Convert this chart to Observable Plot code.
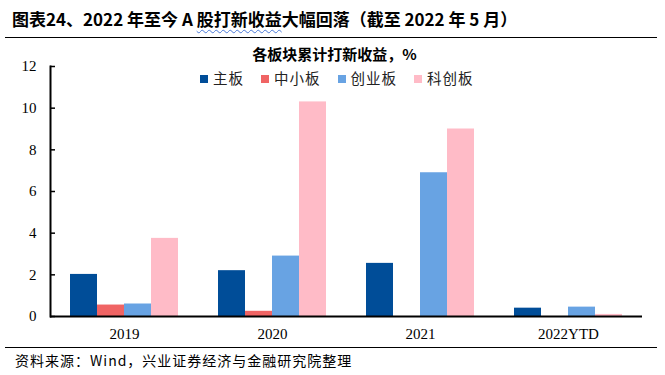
<!DOCTYPE html>
<html>
<head>
<meta charset="utf-8">
<script src="https://cdn.jsdelivr.net/npm/d3@7"></script>
<script src="https://cdn.jsdelivr.net/npm/@observablehq/plot@0.6"></script>
<style>
  body { margin: 0; background: #fff; width: 665px; height: 375px; overflow: hidden; font-family: "Noto Sans CJK SC", sans-serif; }
  #title { position: absolute; left: 12px; top: 6px; font-size: 17px; font-weight: bold; color: #000; white-space: nowrap; letter-spacing: 0px; }
  #title .wavy { text-decoration: underline wavy #4a78d6; text-decoration-thickness: 1px; text-underline-offset: 3px; }
  #line1 { position: absolute; left: 5px; top: 37px; width: 652px; height: 0; border-top: 1.5px solid #000; }
  #wrap { position: absolute; left: 0; top: 40px; }
  #sub { position: absolute; left: 0; width: 665px; top: 43px; text-align: center; font-size: 15px; font-weight: bold; color: #000; padding-left: 4px; box-sizing: border-box; }
  #legend { position: absolute; left: 200px; top: 67px; font-size: 14.5px; color: #222; white-space: nowrap; letter-spacing: 1px; }
  #legend span.item { display: inline-block; margin-right: 17px; }
  #legend span.sw { display: inline-block; width: 8px; height: 8px; margin-right: 5px; vertical-align: 1px; }
  #line2 { position: absolute; left: 5px; top: 347px; width: 652px; height: 0; border-top: 1.5px solid #000; }
  #foot { position: absolute; left: 15px; top: 350px; font-size: 14px; color: #000; white-space: nowrap; letter-spacing: 1px; }
</style>
</head>
<body>
<div id="title">图表24、2022 年至今 A <span class="wavy">股打新收益</span>大幅回落（截至 2022 年 5 月）</div>
<div id="line1"></div>
<div id="wrap"></div>
<div id="sub">各板块累计打新收益，%</div>
<div id="legend"></div>
<div id="line2"></div>
<div id="foot">资料来源：Wind，兴业证券经济与金融研究院整理</div>
<script>
const years = ["2019", "2020", "2021", "2022YTD"];
const boards = ["主板", "中小板", "创业板", "科创板"];
const mainBoard = [2.02, 2.2, 2.55, 0.4];
const smeBoard = [0.55, 0.25, 0, 0];
const gemBoard = [0.6, 2.9, 6.9, 0.45];
const starBoard = [3.75, 10.3, 9.0, 0.1];
const colors = ["#004d98", "#f06464", "#68a3e3", "#ffbbc7"];
const yTicks = [0, 2, 4, 6, 8, 10, 12];

const series = [mainBoard, smeBoard, gemBoard, starBoard];
const data = [];
years.forEach((yr, i) => boards.forEach((b, j) => data.push({year: yr, board: b, value: series[j][i]})));

const legend = document.getElementById("legend");
boards.forEach((b, j) => {
  const s = document.createElement("span");
  s.className = "item";
  s.innerHTML = `<span class="sw" style="background:${colors[j]}"></span>${b}`;
  legend.appendChild(s);
});

const chart = Plot.plot({
  width: 665,
  height: 308,
  marginLeft: 49,
  marginRight: 23,
  marginTop: 26,
  marginBottom: 32,
  style: { fontFamily: "'Liberation Serif', 'Times New Roman', serif", fontSize: "15px", color: "#000", background: "transparent" },
  fx: { domain: years, padding: 0, label: null },
  x: { domain: boards, paddingInner: 0, paddingOuter: 0.74, axis: null },
  y: { domain: [0, 12], ticks: yTicks, label: null },
  color: { domain: boards, range: colors },
  marks: [
    Plot.barY(data, { fx: "year", x: "board", y: "value", fill: "board" }),
    Plot.ruleY([0], { stroke: "#000", strokeWidth: 2 }),
    Plot.frame({ anchor: "left", facetAnchor: "left", stroke: "#000", strokeWidth: 2 }),
    Plot.axisY(yTicks, { anchor: "left", tickSize: -5, tickPadding: 19, strokeWidth: 1.5, stroke: "#000", label: null, fontSize: 15, fill: "#000" }),
    Plot.axisFx({ anchor: "bottom", tickSize: 0, tickPadding: 12, label: null, fontSize: 15, fill: "#000" })
  ]
});
document.getElementById("wrap").appendChild(chart);
</script>
</body>
</html>
